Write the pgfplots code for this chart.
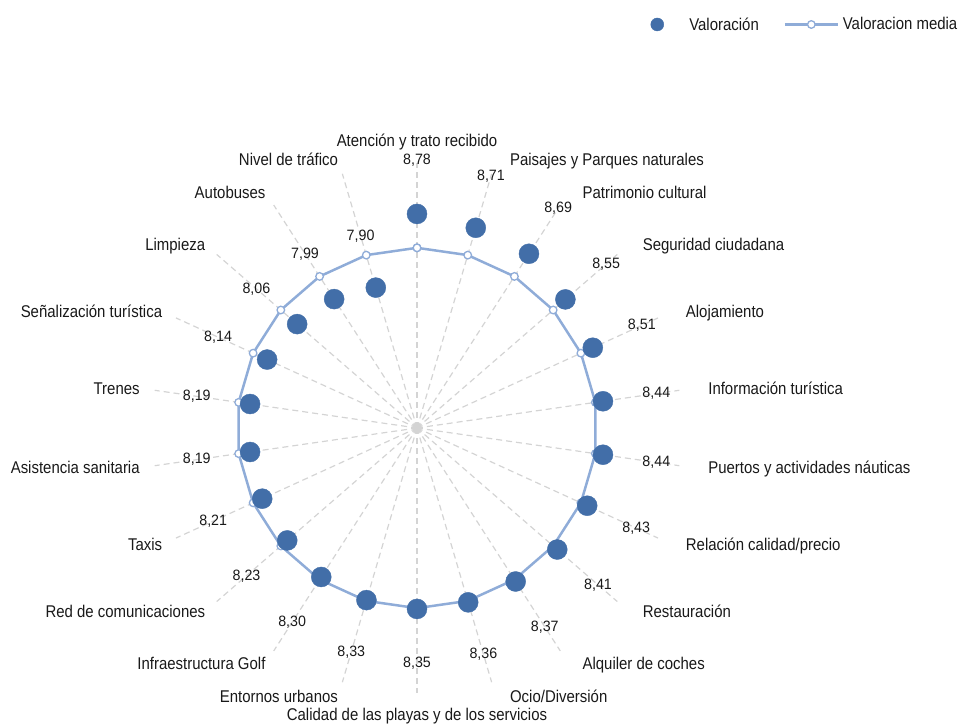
\documentclass[border=0pt]{standalone}
\usepackage{fontspec}
\setmainfont{Liberation Sans}
\newfontfamily\catfam[FakeStretch=0.88]{Liberation Sans}
\newfontfamily\numfam[FakeStretch=0.95]{Liberation Sans}
\newcommand\catfont{\catfam\fontsize{17bp}{20bp}\selectfont}
\newcommand\numfont{\numfam\fontsize{15bp}{18bp}\selectfont}
\usepackage{pgfplots}
\usepackage{pgfplotstable}
\pgfplotsset{compat=1.18}
\definecolor{dotblue}{RGB}{66,110,168}
\definecolor{lineblue}{RGB}{143,172,216}
\definecolor{spokegray}{RGB}{212,212,212}
\definecolor{txt}{RGB}{25,25,25}

\pgfplotsset{
  linelegend/.style={legend image code/.code={
    \path[draw=none] (-26bp,0bp) -- (58bp,0bp);
    \draw[##1,mark repeat=2,mark phase=2] plot coordinates {(0bp,0bp) (26.5bp,0bp) (53bp,0bp)};
  }},
  dotlegend/.style={legend image code/.code={
    \path[draw=none] (-6.5bp,0bp) -- (32bp,0bp);
    \draw[##1,mark size=6.5bp] plot coordinates {(0bp,0bp)};
  }},
}

% Valoracion, clockwise from the top (Atencion y trato recibido)
\pgfplotstableread{
i v
0 8.78
1 8.71
2 8.69
3 8.55
4 8.51
5 8.44
6 8.44
7 8.43
8 8.41
9 8.37
10 8.36
11 8.35
12 8.33
13 8.30
14 8.23
15 8.21
16 8.19
17 8.19
18 8.14
19 8.06
20 7.99
21 7.90
}\valdata

% Valoracion media (closed polygon: first point repeated)
\pgfplotstableread{
i media
0 8.34
1 8.34
2 8.34
3 8.34
4 8.34
5 8.34
6 8.34
7 8.34
8 8.34
9 8.34
10 8.34
11 8.34
12 8.34
13 8.34
14 8.34
15 8.34
16 8.34
17 8.34
18 8.34
19 8.34
20 8.34
21 8.34
22 8.34
}\mediadata

\tikzset{cat/.style={font=\catfont, text=txt, inner sep=0pt, text height=12.2bp, text depth=0bp}}

\begin{document}
\begin{tikzpicture}
\useasboundingbox (0,0) rectangle (958bp,724bp);
\begin{axis}[at={(0,0)}, anchor=south west, scale only axis,
  width=958bp, height=724bp,
  xmin=-5.41558, xmax=7.02597, ymin=-3.84416, ymax=5.55844,
  hide axis, clip=false,
  reverse legend, legend columns=2, legend cell align=left,
  legend style={draw=none, fill=none, inner sep=0pt, anchor=east,
    at={(0.99948,0.96616)},
    nodes={inner sep=0pt, font=\catfont, text=txt}},
]
\pgfplotsinvokeforeach{0,...,21}{
  \draw[spokegray, line width=1.2bp, dash pattern=on 6bp off 4bp]
    (axis cs:0,0) -- ++({90-#1*360/22}:265bp);
}
\fill[spokegray] (axis cs:0,0) circle (5bp);
\coordinate (c) at (axis cs:0,0);

\addplot[lineblue, line width=2.5bp, mark=*, mark size=3.8bp,
  mark options={fill=white, draw=lineblue, line width=1.3bp, solid},
  data cs=polar, linelegend]
  table[x expr={90-\thisrow{i}*360/22}, y expr={\thisrow{media}-6}] \mediadata;
\addlegendentry{Valoracion media}

\addplot[only marks, mark=*, mark size=10bp, color=dotblue, data cs=polar, dotlegend]
  table[x expr={90-\thisrow{i}*360/22}, y expr={\thisrow{v}-6}] \valdata;
\addlegendentry{Valoración}

\addplot[forget plot, draw=none, mark=none, data cs=polar,
  point meta=explicit,
  nodes near coords={\pgfmathprintnumber[fixed,fixed zerofill,precision=2,use comma,assume math mode=true]{\pgfplotspointmeta}},
  nodes near coords style={anchor=center, font=\numfont, text=txt, inner sep=0pt}]
  table[x expr={90-\thisrow{i}*360/22}, y expr={\thisrow{v}-5.3}, meta=v] \valdata;
\end{axis}

\path (c) ++(90:281bp) node[cat, anchor=south] {Atención y trato recibido};
\path (c) ++(-90:280bp) node[cat, anchor=north] {Calidad de las playas y de los servicios};
\foreach \i/\t in {1/{Paisajes y Parques naturales},2/{Patrimonio cultural},3/{Seguridad ciudadana},4/{Alojamiento},5/{Información turística},6/{Puertos y actividades náuticas},7/{Relación calidad/precio},8/{Restauración},9/{Alquiler de coches},10/{Ocio/Diversión}}{
  \path (c) ++({90-\i*360/22}:280bp) node[cat, anchor=west, xshift=14bp] {\t};
}
\foreach \i/\t in {12/{Entornos urbanos},13/{Infraestructura Golf},14/{Red de comunicaciones},15/{Taxis},16/{Asistencia sanitaria},17/{Trenes},18/{Señalización turística},19/{Limpieza},20/{Autobuses},21/{Nivel de tráfico}}{
  \path (c) ++({90-\i*360/22}:280bp) node[cat, anchor=east] {\t};
}
\end{tikzpicture}
\end{document}
